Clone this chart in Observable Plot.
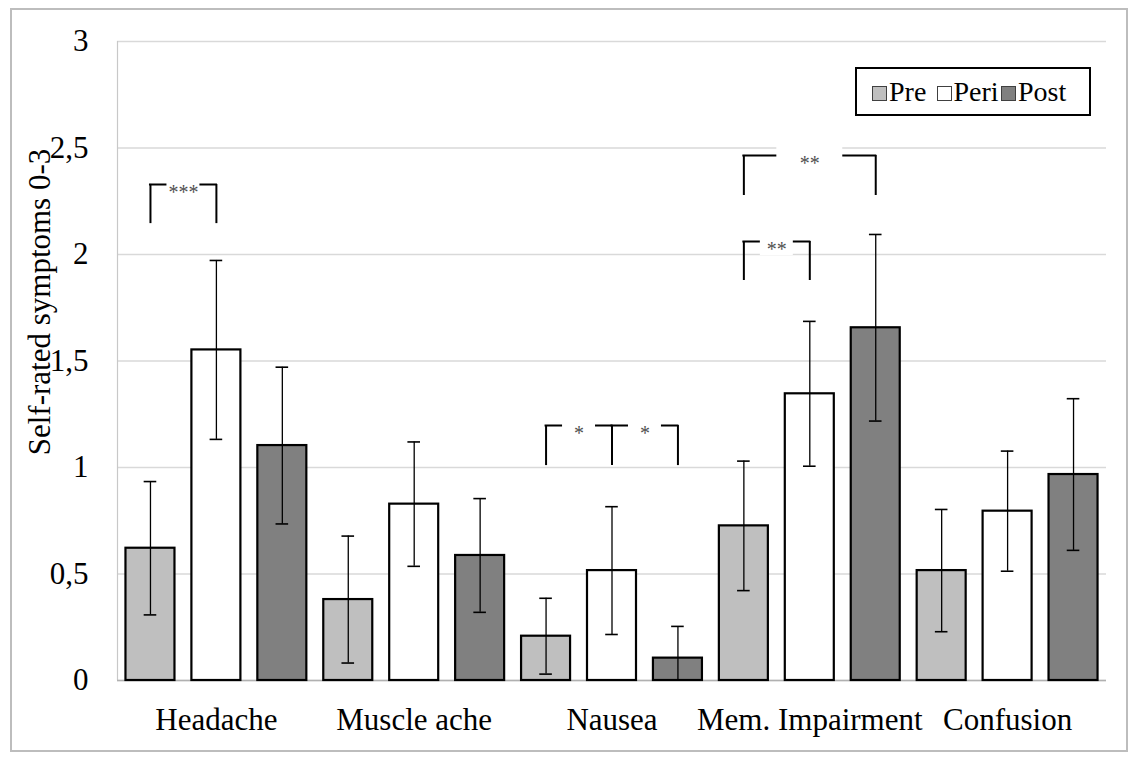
<!DOCTYPE html>
<html>
<head>
<meta charset="utf-8">
<script src="https://cdn.jsdelivr.net/npm/d3@7"></script>
<script src="https://cdn.jsdelivr.net/npm/@observablehq/plot@0.6"></script>
<style>
  html, body { margin: 0; padding: 0; background: #fff; }
  #wrap { position: relative; width: 1138px; height: 760px; overflow: hidden; }
  #wrap svg { position: absolute; left: 0; top: 0; }
  #border { position: absolute; left: 10px; top: 8px; width: 1118px; height: 744px; box-sizing: border-box; border: 2px solid #bdbdbd; pointer-events: none; }
  #legend { position: absolute; left: 855px; top: 67px; width: 236px; height: 49px; box-sizing: border-box;
    border: 2px solid #000; background: #fff; display: flex; align-items: center; padding-left: 15px;
    font-family: 'Liberation Serif', 'Times New Roman', serif; font-size: 28px; color: #000; }
  .item { display: inline-flex; align-items: center; width: 64.5px; white-space: nowrap; }
  .item:last-child { width: auto; }
  .sw { display: inline-block; width: 15px; height: 15px; box-sizing: border-box; border: 1.5px solid #404040; margin-right: 2px; position: relative; top: 2px; }
</style>
</head>
<body>
<div id="wrap"></div>
<script>
// ---- data ----
const categories = ["Headache", "Muscle ache", "Nausea", "Mem. Impairment", "Confusion"];
const series = ["Pre", "Peri", "Post"];
const seriesColors = ["#bfbfbf", "#ffffff", "#808080"];

const preMean  = [0.621, 0.380, 0.208, 0.726, 0.516];
const preSD    = [0.313, 0.298, 0.178, 0.304, 0.287];
const periMean = [1.552, 0.828, 0.516, 1.346, 0.795];
const periSD   = [0.420, 0.292, 0.300, 0.340, 0.282];
const postMean = [1.103, 0.587, 0.105, 1.656, 0.967];
const postSD   = [0.368, 0.267, 0.149, 0.438, 0.356];

const yTicks = [0, 0.5, 1, 1.5, 2, 2.5, 3];
const yTickLabels = ["0", "0,5", "1", "1,5", "2", "2,5", "3"];
const yLabel = "Self-rated symptoms 0-3";

// significance brackets
const bracketCategory = ["Headache", "Nausea", "Nausea", "Mem. Impairment", "Mem. Impairment"];
const bracketFrom     = ["Pre", "Pre", "Peri", "Pre", "Pre"];
const bracketTo       = ["Peri", "Peri", "Post", "Peri", "Post"];
const bracketTop      = [2.329, 1.197, 1.197, 2.061, 2.465];
const bracketBottom   = [2.145, 1.009, 1.009, 1.878, 2.277];
const bracketLabel    = ["***", "*", "*", "**", "**"];

// ---- layout ----
const W = 1138, H = 760, mL = 117, mR = 32, mT = 41, mB = 80;
const nSlots = categories.length * series.length;
const xDomain = [-0.5, nSlots - 0.5];
const xUnit = (W - mL - mR) / nSlots;      // px per slot
const yUnit = (H - mT - mB) / 3;           // px per unit
const barHalf = 24.5 / xUnit;
const capHalf = 6.3 / xUnit;

const means = [preMean, periMean, postMean];
const sds = [preSD, periSD, postSD];
const slot = (c, s) => categories.indexOf(c) * series.length + series.indexOf(s);

const table = categories.flatMap((c, ci) => series.map((s, si) => ({
  category: c, series: s, x: slot(c, s),
  mean: means[si][ci], lo: means[si][ci] - sds[si][ci], hi: means[si][ci] + sds[si][ci]
})));

const brackets = bracketLabel.map((label, i) => {
  const x1 = slot(bracketCategory[i], bracketFrom[i]);
  const x2 = slot(bracketCategory[i], bracketTo[i]);
  return { x1, x2, mid: (x1 + x2) / 2, gap: 0.25 * (x2 - x1), top: bracketTop[i], bottom: bracketBottom[i], label };
});

const catTicks = categories.map(c => slot(c, "Peri"));

const chart = Plot.plot({
  width: W, height: H,
  marginLeft: mL, marginRight: mR, marginTop: mT, marginBottom: mB,
  style: { fontFamily: "'Liberation Serif', 'Times New Roman', serif", fontSize: "31px", color: "#000", background: "transparent", overflow: "visible" },
  x: { domain: xDomain, ticks: catTicks, tickFormat: v => categories[catTicks.indexOf(v)], tickSize: 0, tickPadding: 27, label: null },
  y: { domain: [0, 3], ticks: yTicks, tickFormat: v => yTickLabels[yTicks.indexOf(v)], tickSize: 0, tickPadding: 29, label: null },
  color: { domain: series, range: seriesColors },
  marks: [
    Plot.ruleY(yTicks, { stroke: "#d9d9d9", strokeWidth: 1.3 }),
    Plot.ruleX([xDomain[0]], { stroke: "#c8c8c8", strokeWidth: 1.2 }),
    Plot.ruleY([0], { stroke: "#b0b0b0", strokeWidth: 1.6 }),
    Plot.rectY(table, { x1: d => d.x - barHalf, x2: d => d.x + barHalf, y: "mean", fill: "series", stroke: "#000", strokeWidth: 2.2 }),
    Plot.ruleX(table, { x: "x", y1: "lo", y2: "hi", stroke: "#000", strokeWidth: 1.3, clip: true }),
    Plot.ruleY(table, { y: "hi", x1: d => d.x - capHalf, x2: d => d.x + capHalf, stroke: "#000", strokeWidth: 1.6, clip: true }),
    Plot.ruleY(table, { y: "lo", x1: d => d.x - capHalf, x2: d => d.x + capHalf, stroke: "#000", strokeWidth: 1.6, clip: true }),
    // brackets
    Plot.ruleX(brackets, { x: "x1", y1: "bottom", y2: "top", stroke: "#000", strokeWidth: 2 }),
    Plot.ruleX(brackets, { x: "x2", y1: "bottom", y2: "top", stroke: "#000", strokeWidth: 2 }),
    Plot.ruleY(brackets, { y: "top", x1: d => d.x1 - 1 / xUnit, x2: d => d.x2 + 1 / xUnit, stroke: "#000", strokeWidth: 2 }),
    Plot.rect(brackets, { x1: d => d.mid - d.gap, x2: d => d.mid + d.gap, y1: d => d.top - 14 / yUnit, y2: d => d.top + 9 / yUnit, fill: "#fff" }),
    Plot.text(brackets, { x: "mid", y: "top", text: "label", lineAnchor: "top", fontSize: 20, fill: "#505050" }),
    // y label
    Plot.text([yLabel], { text: d => d, frameAnchor: "left", textAnchor: "middle", rotate: -90, dx: -77, dy: -59, fontSize: 31, lineAnchor: "middle", fill: "#000" })
  ]
});

const wrap = document.getElementById("wrap");
wrap.appendChild(chart);

const border = document.createElement("div");
border.id = "border";
wrap.appendChild(border);

const legend = document.createElement("div");
legend.id = "legend";
series.forEach((s, i) => {
  const item = document.createElement("span");
  item.className = "item";
  const sw = document.createElement("span");
  sw.className = "sw";
  sw.style.background = seriesColors[i];
  item.appendChild(sw);
  item.appendChild(document.createTextNode(s));
  legend.appendChild(item);
});
wrap.appendChild(legend);
</script>
</body>
</html>
